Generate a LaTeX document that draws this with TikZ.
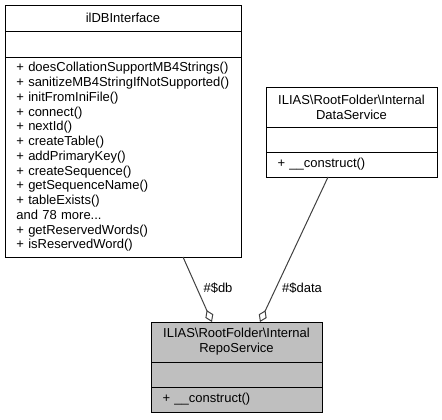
\documentclass[tikz,border=0pt]{standalone}
\usepackage{fontspec}
\setmainfont{Liberation Sans}
\usetikzlibrary{arrows.meta,positioning}
\hyphenpenalty=10000
\definecolor{repogray}{HTML}{BFBFBF}
\definecolor{edgegray}{HTML}{404040}
\tikzstyle{part}=[draw=black,line width=.75pt,inner sep=0pt,outer sep=0pt,anchor=north west,font=\fontsize{9.75}{11.06}\selectfont]
\tikzstyle{bigbox}=[part,minimum width=177pt,text width=160pt]
\tikzstyle{smallbox}=[part,minimum width=128.25pt,text width=111pt]
\tikzstyle{member}=[draw=edgegray,line width=.75pt,-{Diamond[open,length=9.75pt,width=6.5pt]}]
\tikzstyle{lbl}=[inner sep=0pt,font=\fontsize{9.75}{11.06}\selectfont]

\begin{document}
\begin{tikzpicture}[x=0.75pt,y=-0.75pt]
      \useasboundingbox (0,0) rectangle (442,419);

      % ilDBInterface
      \node[bigbox,align=center,minimum height=19.5pt] (dbT) at (5,5) {ilDBInterface};
      \node[bigbox,minimum height=19.5pt,below=0pt of dbT] (dbE) {};
      \node[bigbox,align=left,minimum height=150pt,below=0pt of dbE] (dbM) {%
        + doesCollationSupportMB4Strings()\\
        + sanitizeMB4StringIfNotSupported()\\
        + initFromIniFile()\\
        + connect()\\
        + nextId()\\
        + createTable()\\
        + addPrimaryKey()\\
        + createSequence()\\
        + getSequenceName()\\
        + tableExists()\\
        and 78 more...\\
        + getReservedWords()\\
        + isReservedWord()};

      % DataService
      \node[smallbox,align=center,minimum height=30pt] (dsT) at (266,87)
        {ILIAS\textbackslash RootFolder\textbackslash Internal\\DataService};
      \node[smallbox,minimum height=18.75pt,below=0pt of dsT] (dsE) {};
      \node[smallbox,align=left,minimum height=18.75pt,below=0pt of dsE] (dsM) {+ \_\_construct()};

      % RepoService
      \node[smallbox,fill=repogray,align=center,minimum height=30pt] (repoT) at (151,322)
        {ILIAS\textbackslash RootFolder\textbackslash Internal\\RepoService};
      \node[smallbox,fill=repogray,minimum height=18.75pt,below=0pt of repoT] (repoE) {};
      \node[smallbox,fill=repogray,align=left,minimum height=18.75pt,below=0pt of repoE] (repoM) {+ \_\_construct()};

      \coordinate (dbOut) at ([xshift=45pt]dbM.south);
      \coordinate (dbIn) at ([xshift=-18.4pt]repoT.north);
      \coordinate (dsOut) at ([xshift=-17.6pt]dsM.south);
      \coordinate (dsIn) at ([xshift=17.6pt]repoT.north);

      \draw[member] (dbOut) -- (dbIn);
      \draw[member] (dsOut) -- (dsIn);

      \node[lbl] (dbLbl) at (218,288) {\#\$db};
      \node[lbl] (dsLbl) at (302,288) {\#\$data};
\end{tikzpicture}
\end{document}
